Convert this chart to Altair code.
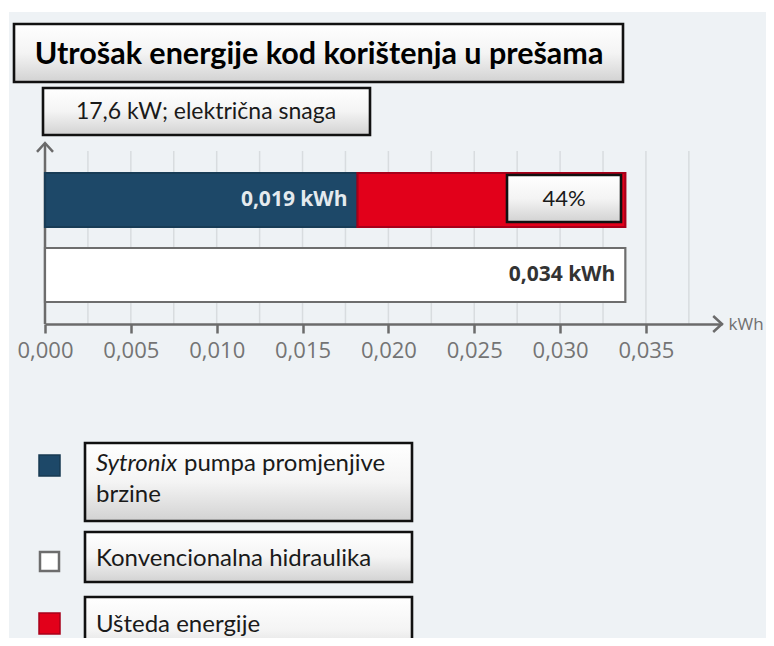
import altair as alt
import pandas as pd

# ---------------- data ----------------
title_text = "Utrošak energije kod korištenja u prešama"
subtitle_text = "17,6 kW; električna snaga"
rows = ["Sytronix", "Konvencionalna"]
series = ["Sytronix", "Ušteda", "Konvencionalna"]
sytronix_kwh = 0.0182          # end of the blue segment as drawn
conventional_kwh = 0.0338      # end of red / white bars as drawn
value_labels = ["0,019 kWh", "0,034 kWh"]
saving_label = "44%"
x_ticks = [0.0, 0.005, 0.010, 0.015, 0.020, 0.025, 0.030, 0.035]
grid_values = [0.0025, 0.005, 0.0075, 0.010, 0.0125, 0.015, 0.0175, 0.020,
               0.0225, 0.025, 0.0275, 0.030, 0.0325, 0.035, 0.0375]
axis_end = 0.03943
legend_italic = "Sytronix"
legend_rest = ["pumpa promjenjive", "brzine"]
legend_labels = ["Konvencionalna hidraulika", "Ušteda energije"]

# ---------------- styles ----------------
BLUE = "#1d4868"
RED = "#e2001a"
WHITE = "#ffffff"
PANEL = "#eef2f5"
AXIS = "#6b6b6b"
GRID = "#d8dcdf"
FONT = "Lato"
TFONT = "Open Sans"

seg = pd.DataFrame({
    "row": [rows[0], rows[0], rows[1]],
    "series": series,
    "start": [0.0, sytronix_kwh, 0.0],
    "end": [sytronix_kwh, conventional_kwh, conventional_kwh],
})
lab = pd.DataFrame({"row": rows, "x": [sytronix_kwh, conventional_kwh],
                    "label": value_labels})
grid_df = pd.DataFrame({"v": grid_values})
one = alt.Data(values=[{}])

xscale = alt.Scale(domain=[0, axis_end], nice=False, zero=True)
xaxis = alt.Axis(
    values=x_ticks, grid=False,
    labelExpr="replace(format(datum.value, '.3f'), '.', ',')",
    domainColor=AXIS, domainWidth=2.5, tickColor=AXIS, tickWidth=2.5,
    tickSize=9, labelFont=TFONT, labelFontSize=22, labelColor="#747474",
    labelPadding=7, labelFlush=False, labelOverlap=False,
    title="kWh", titleX=683, titleY=0, titleAlign="left", titleBaseline="middle",
    titleFont=TFONT, titleFontSize=17, titleFontWeight="normal", titleColor="#707070",
    titleAngle=0, zindex=1,
)


def xenc(field):
    return alt.X(field, type="quantitative", scale=xscale, axis=xaxis)


yscale = alt.Scale(domain=rows, range=[30, 159], paddingInner=0.28, paddingOuter=0)
yenc = alt.Y("row:N", scale=yscale, axis=None, sort=rows)

grad = alt.Gradient(
    gradient="linear",
    stops=[alt.GradientStop(color="#ffffff", offset=0),
           alt.GradientStop(color="#f4f4f4", offset=0.5),
           alt.GradientStop(color="#d2d2d2", offset=1)],
    x1=0, x2=0, y1=0, y2=1,
)


def box(x, x2, y, y2):
    return alt.Chart(one).mark_rect(fill=grad, stroke="#111111", strokeWidth=2.6).encode(
        x=alt.value(x), x2=alt.value(x2), y=alt.value(y), y2=alt.value(y2))


def text(t, x, y, size, align="center", weight="normal", style="normal",
         color="#1a1a1a", font=FONT):
    return alt.Chart(one).mark_text(
        text=t, align=align, baseline="middle", fontSize=size, font=font,
        fontWeight=weight, fontStyle=style, color=color).encode(
        x=alt.value(x), y=alt.value(y))


def swatch(x, x2, y, y2, fill, stroke, sw):
    return alt.Chart(one).mark_rect(fill=fill, stroke=stroke, strokeWidth=sw).encode(
        x=alt.value(x), x2=alt.value(x2), y=alt.value(y), y2=alt.value(y2))


panel = alt.Chart(one).mark_rect(fill=PANEL).encode(
    x=alt.value(-36), x2=alt.value(721), y=alt.value(-131), y2=alt.value(495))

grid = alt.Chart(grid_df).mark_rule(color=GRID, strokeWidth=1.5).encode(
    x=xenc("v"), y=alt.value(8), y2=alt.value(181))

bars = alt.Chart(seg).mark_bar(strokeWidth=2.2).encode(
    x=xenc("start"), x2="end:Q", y=yenc,
    fill=alt.Fill("series:N", scale=alt.Scale(domain=series, range=[BLUE, RED, WHITE]), legend=None),
    stroke=alt.Stroke("series:N", scale=alt.Scale(domain=series, range=["#183c56", "#a8001a", "#6d6d6d"]), legend=None),
)

bar_labels = alt.Chart(lab).mark_text(
    align="right", baseline="middle", dx=-10, fontSize=21, font=TFONT, fontWeight="bold").encode(
    x=xenc("x"), y=yenc, text="label:N",
    color=alt.Color("row:N", scale=alt.Scale(domain=rows, range=["#e4eaee", "#333333"]), legend=None),
)

yaxis_line = alt.Chart(pd.DataFrame({"v": [0.0]})).mark_rule(color=AXIS, strokeWidth=2.5).encode(
    x=xenc("v"), y=alt.value(0), y2=alt.value(181))

x_arrow = alt.Chart(pd.DataFrame({"v": [axis_end]})).mark_point(
    shape="M-1.1,-1L0,0L-1.1,1", size=256, filled=False, stroke=AXIS,
    strokeWidth=2.5, opacity=1).encode(x=xenc("v"), y=alt.value(181))

y_arrow = alt.Chart(pd.DataFrame({"v": [0.0]})).mark_point(
    shape="M-1,1.1L0,0L1,1.1", size=256, filled=False, stroke=AXIS,
    strokeWidth=2.5, opacity=1).encode(x=xenc("v"), y=alt.value(0))

layers = [
    panel, grid, yaxis_line, bars, bar_labels, x_arrow, y_arrow,
    box(462, 576, 32, 79), text(saving_label, 519, 56, 22),
    box(-31, 578, -119, -61), text(title_text, 274, -88, 30.5, weight="bold", color="#000000"),
    box(-2, 325, -55, -8), text(subtitle_text, 161, -31, 23),
    # legend
    swatch(-6, 15, 312, 333, BLUE, "#173a52", 1.5),
    box(40, 367, 300, 378),
    text(legend_italic, 51, 321, 24, align="left", style="italic"),
    text(legend_rest[0], 139, 321, 24, align="left"),
    text(legend_rest[1], 51, 352, 24, align="left"),
    swatch(-5, 14, 409, 428, WHITE, "#6d6d6d", 2.5),
    box(40, 367, 389, 439),
    text(legend_labels[0], 51, 416, 24, align="left"),
    swatch(-6, 15, 470, 491, RED, "#a8001a", 1.5),
    box(40, 367, 454, 520),
    text(legend_labels[1], 51, 482, 24, align="left"),
]

chart = alt.layer(*layers).properties(
    width=677, height=181,
    padding={"left": 37, "top": 135, "right": 44, "bottom": 314},
    autosize=alt.AutoSizeParams(type="none"),
).configure_view(stroke=None)

chart.save("out.html", embed_options={"renderer": "svg", "actions": False})
